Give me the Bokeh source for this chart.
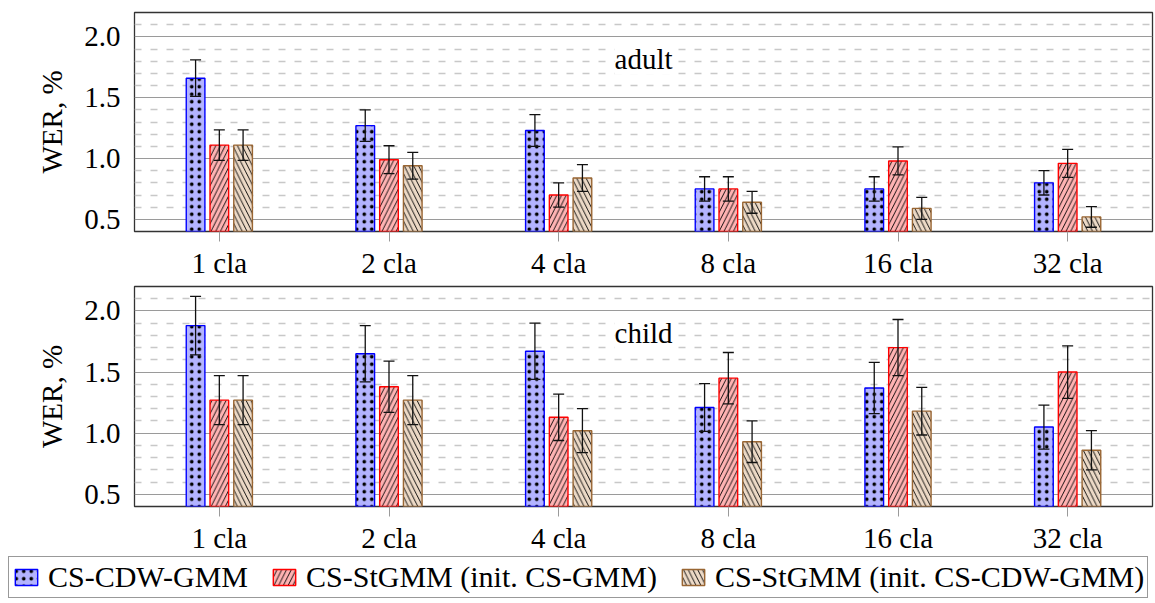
from bokeh.plotting import figure
from bokeh.models import (ColumnDataSource, FactorRange, Range1d, FixedTicker, Whisker,
                          TeeHead, Label, Legend, LegendItem, NumeralTickFormatter)
from bokeh.layouts import column
from bokeh.transform import dodge
from bokeh.embed import file_html
from bokeh.resources import INLINE

# ---------------- data ----------------
categories = ["1 cla", "2 cla", "4 cla", "8 cla", "16 cla", "32 cla"]
series_names = ["CS-CDW-GMM", "CS-StGMM (init. CS-GMM)", "CS-StGMM (init. CS-CDW-GMM)"]

adult_cdw = [1.66, 1.27, 1.23, 0.75, 0.75, 0.80]
adult_st_gmm = [1.11, 0.99, 0.70, 0.75, 0.98, 0.96]
adult_st_cdw = [1.11, 0.94, 0.84, 0.64, 0.59, 0.52]
adult_cdw_err = [0.15, 0.13, 0.13, 0.10, 0.10, 0.10]
adult_st_gmm_err = [0.125, 0.115, 0.10, 0.10, 0.115, 0.115]
adult_st_cdw_err = [0.125, 0.11, 0.11, 0.09, 0.09, 0.085]

child_cdw = [1.88, 1.65, 1.67, 1.21, 1.37, 1.05]
child_st_gmm = [1.27, 1.38, 1.13, 1.45, 1.70, 1.50]
child_st_cdw = [1.27, 1.27, 1.02, 0.93, 1.18, 0.86]
child_cdw_err = [0.24, 0.23, 0.23, 0.195, 0.21, 0.18]
child_st_gmm_err = [0.20, 0.21, 0.19, 0.21, 0.23, 0.215]
child_st_cdw_err = [0.20, 0.20, 0.18, 0.17, 0.195, 0.16]

y_major_ticks = [0.5, 1.0, 1.5, 2.0]
y_minor_ticks = [0.6, 0.7, 0.8, 0.9, 1.1, 1.2, 1.3, 1.4, 1.6, 1.7, 1.8, 1.9, 2.1]

# ---------------- style ----------------
FONT = "'Liberation Serif', serif"
FS = "29px"
fill_colors = ["#B3B3FF", "#FFB3B3", "#ECD9C6"]
line_colors = ["#0000FF", "#FF0000", "#996633"]
hatches = ["dot", "right_diagonal_line", "left_diagonal_line"]
hatch_scales = [7.5, 9.5, 9.5]
hatch_weights = [1.3, 0.9, 0.9]
offsets = [-0.14, 0.0, 0.14]
BAR_W = 0.11


def bar_style(i):
    return dict(fill_color=fill_colors[i], line_color=line_colors[i], line_width=1.4,
                hatch_pattern=hatches[i], hatch_color="black",
                hatch_scale=hatch_scales[i], hatch_weight=hatch_weights[i])


def make_panel(title, vals, errs, height, b_top, b_bottom):
    p = figure(x_range=FactorRange(*categories, range_padding=0),
               y_range=Range1d(0.4, 2.2), width=1155, height=height,
               output_backend="svg", toolbar_location=None,
               min_border_left=134, min_border_right=3,
               min_border_top=b_top, min_border_bottom=b_bottom)
    data = dict(cat=categories)
    for i in range(3):
        data[f"v{i}"] = vals[i]
        data[f"lo{i}"] = [v - e for v, e in zip(vals[i], errs[i])]
        data[f"hi{i}"] = [v + e for v, e in zip(vals[i], errs[i])]
    src = ColumnDataSource(data)

    for i in range(3):
        p.vbar(x=dodge("cat", offsets[i], range=p.x_range), top=f"v{i}", bottom=0,
               width=BAR_W, source=src, **bar_style(i))
        w = Whisker(source=src, base=dodge("cat", offsets[i], range=p.x_range),
                    lower=f"lo{i}", upper=f"hi{i}", line_color="#111111", line_width=1.3,
                    upper_head=TeeHead(size=11, line_color="#111111", line_width=1.3),
                    lower_head=TeeHead(size=11, line_color="#111111", line_width=1.3),
                    level="annotation")
        p.add_layout(w)

    p.yaxis.ticker = FixedTicker(ticks=y_major_ticks, minor_ticks=y_minor_ticks)
    p.yaxis.formatter = NumeralTickFormatter(format="0.0")
    p.ygrid.grid_line_color = "#9a9a9a"
    p.ygrid.grid_line_width = 1.1
    p.ygrid.minor_grid_line_color = "#c8c8c8"
    p.ygrid.minor_grid_line_width = 1.3
    p.ygrid.minor_grid_line_dash = "7 9"
    p.xgrid.grid_line_color = None

    p.outline_line_color = "#333333"
    p.outline_line_width = 1.3
    for ax in (p.xaxis, p.yaxis):
        ax.axis_line_color = None
        ax.major_label_text_font = FONT
        ax.major_label_text_font_size = FS
        ax.major_label_text_color = "black"
        ax.minor_tick_line_color = None
    p.yaxis.major_tick_line_color = None
    p.yaxis.major_tick_out = 0
    p.yaxis.major_tick_in = 0
    p.yaxis.major_label_standoff = 10
    p.yaxis.axis_label = "WER, %"
    p.yaxis.axis_label_text_font = FONT
    p.yaxis.axis_label_text_font_size = FS
    p.yaxis.axis_label_text_font_style = "normal"
    p.yaxis.axis_label_text_color = "black"
    p.yaxis.axis_label_standoff = 13

    p.xaxis.major_tick_line_color = "#9a9a9a"
    p.xaxis.major_tick_out = 10
    p.xaxis.major_tick_in = 0
    p.xaxis.major_label_standoff = 5

    p.add_layout(Label(x=3.0, y=1.82, text=title, text_align="center",
                       text_baseline="middle", text_font=FONT, text_font_size=FS,
                       text_color="black", background_fill_color="white"))
    return p


p1 = make_panel("adult", [adult_cdw, adult_st_gmm, adult_st_cdw],
                [adult_cdw_err, adult_st_gmm_err, adult_st_cdw_err], 285, 12, 54)
p2 = make_panel("child", [child_cdw, child_st_gmm, child_st_cdw],
                [child_cdw_err, child_st_gmm_err, child_st_cdw_err], 271, 1, 50)

# ---------------- legend strip (separate root) ----------------
pl = figure(width=1155, height=47, x_range=FactorRange(*categories),
            y_range=Range1d(-2, -1), output_backend="svg", toolbar_location=None,
            min_border=0, min_border_left=0, min_border_right=0,
            min_border_top=0, min_border_bottom=0,
            x_axis_type=None, y_axis_type=None, outline_line_color=None)
pl.grid.visible = False
src_l = ColumnDataSource(dict(cat=categories, v0=child_cdw, v1=child_st_gmm, v2=child_st_cdw))
items = []
for i in range(3):
    # bars lie outside the strip's visible y-range; they only supply the legend swatches
    r = pl.vbar(x="cat", top=f"v{i}", bottom=0, width=0.1, source=src_l, **bar_style(i))
    items.append(LegendItem(label=series_names[i], renderers=[r]))
leg = Legend(items=items, orientation="horizontal", location=(8, 5), margin=0,
             padding=3, spacing=22, label_standoff=8, glyph_width=28, glyph_height=20,
             label_text_font=FONT, label_text_font_size="30px", label_text_color="black",
             border_line_color="#333333", border_line_width=1.2,
             background_fill_color="white", background_fill_alpha=1.0)
pl.add_layout(leg)

layout = column(p1, p2, spacing=0)
open("out.html", "w").write(file_html([layout, pl], INLINE))
